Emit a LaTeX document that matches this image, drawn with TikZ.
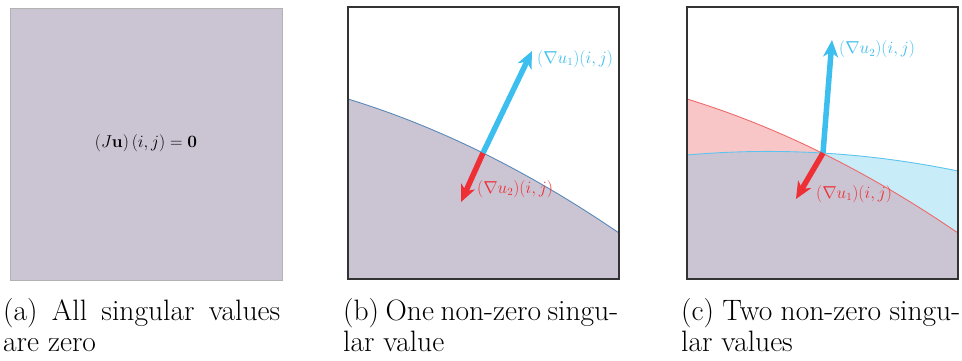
\documentclass[tikz,border=0pt]{standalone}
\usetikzlibrary{arrows.meta}
\definecolor{grayfill}{HTML}{CBC5D3}
\definecolor{pinkfill}{HTML}{F9C6C8}
\definecolor{cyanfill}{HTML}{C8ECF8}
\definecolor{arrblue}{HTML}{3CBEEE}
\definecolor{arrred}{HTML}{EE2F36}
\definecolor{curveblue}{HTML}{5A88B8}
\definecolor{curvered}{HTML}{EE6A6A}
\definecolor{curvecyan}{HTML}{5CC4EE}
\newcommand{\capfont}{\fontsize{29.5}{31.5}\selectfont}
\newcommand{\lblfont}{\fontsize{16}{19}\selectfont}
\newcommand{\lblfonta}{\fontsize{17}{20}\selectfont}
\begin{document}
\begin{tikzpicture}[x=1pt,y=-1pt,
  frame/.style={draw=black!80,line width=1.2pt},
  vecarrow/.style={line width=5.5pt,-{Stealth[length=17pt,width=15pt,inset=5pt]}},
  bluevec/.style={vecarrow,draw=arrblue},
  redvec/.style={vecarrow,draw=arrred},
  lbl/.style={anchor=west,inner sep=0pt,font=\lblfont},
  caption/.style={anchor=base west,inner sep=0pt,font=\capfont}]
\useasboundingbox (0,0) rectangle (962,360);

% ---------- panel (a)
\fill[grayfill] (10,8) rectangle (282,280);
\draw[draw=black!30,line width=1pt] (10,8) rectangle (282,280);
\node[inner sep=0pt,font=\lblfonta] (la) at (146,143) {$(J\mathbf{u})\,(i,j)=\mathbf{0}$};

% ---------- panel (b)
\begin{scope}
\clip (348,7) rectangle (619,279);
\fill[grayfill] plot[domain=0:2.72,samples=60] ({348+100*\x},{99+30.6*\x+6.95*\x*\x}) -- (620,280) -- (348,280) -- cycle;
\draw[curveblue,line width=0.9pt] plot[domain=0:2.72,samples=60] ({348+100*\x},{99+30.6*\x+6.95*\x*\x});
\end{scope}
\draw[frame] (348,7) rectangle (619,279);
\coordinate (bo) at (483,153);
\coordinate (bt1) at (532,51);
\coordinate (bt2) at (461,202);
\draw[bluevec] (bo) -- (bt1);
\draw[redvec] (bo) -- (bt2);
\node[lbl,text=arrblue] (lb1) at (537,59) {$(\nabla u_1)(i,j)$};
\node[lbl,text=arrred] (lb2) at (477,189) {$(\nabla u_2)(i,j)$};

% ---------- panel (c)
\begin{scope}
\clip (687,7) rectangle (958,279);
\fill[pinkfill] plot[domain=0:2.72,samples=60] ({687+100*\x},{99+30.6*\x+6.95*\x*\x}) -- (960,280) -- (687,280) -- cycle;
\fill[cyanfill] plot[domain=0:2.72,samples=60] ({687+100*\x},{155-8.81*\x+5.43*\x*\x}) -- (960,280) -- (687,280) -- cycle;
\begin{scope}
\clip plot[domain=0:2.72,samples=60] ({687+100*\x},{99+30.6*\x+6.95*\x*\x}) -- (960,280) -- (687,280) -- cycle;
\fill[grayfill] plot[domain=0:2.72,samples=60] ({687+100*\x},{155-8.81*\x+5.43*\x*\x}) -- (960,280) -- (687,280) -- cycle;
\end{scope}
\draw[curvecyan,line width=0.9pt] plot[domain=0:2.72,samples=60] ({687+100*\x},{155-8.81*\x+5.43*\x*\x});
\draw[curvered,line width=0.9pt] plot[domain=0:2.72,samples=60] ({687+100*\x},{99+30.6*\x+6.95*\x*\x});
\end{scope}
\draw[frame] (687,7) rectangle (958,279);
\coordinate (co) at (823,153);
\coordinate (ct1) at (832,40);
\coordinate (ct2) at (796,199);
\draw[bluevec] (co) -- (ct1);
\draw[redvec] (co) -- (ct2);
\node[lbl,text=arrblue] (lc1) at (839,49.5) {$(\nabla u_2)(i,j)$};
\node[lbl,text=arrred] (lc2) at (816,194) {$(\nabla u_1)(i,j)$};

% ---------- captions
\node[caption] (ca1) at (3,320) {\makebox[277pt][s]{(a) All singular values}};
\node[caption] (ca2) at (3,351.5) {are zero};
\node[caption] (cb1) at (343,320) {\makebox[275pt][s]{(b) One non-zero singu-}};
\node[caption] (cb2) at (343,351.5) {lar value};
\node[caption] (cc1) at (681,320) {\makebox[279pt][s]{(c) Two non-zero singu-}};
\node[caption] (cc2) at (681,351.5) {lar values};
\end{tikzpicture}
\end{document}
